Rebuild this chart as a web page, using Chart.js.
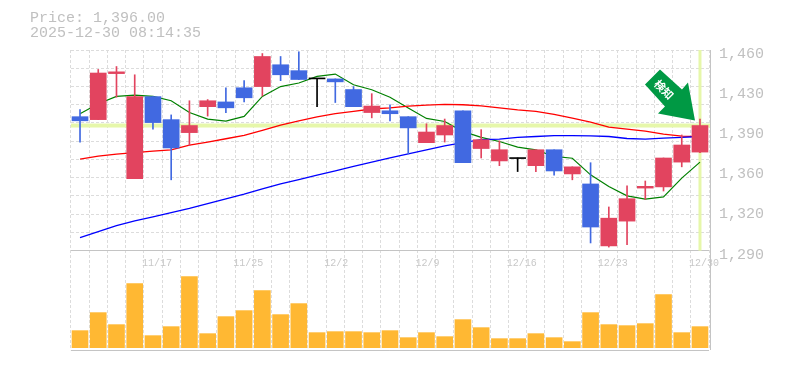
<!DOCTYPE html>
<html>
<head>
<meta charset="utf-8">
<style>
  html, body { margin: 0; padding: 0; background: #fff; }
  #wrap { width: 785px; height: 370px; }
</style>
<script src="https://cdn.jsdelivr.net/npm/chart.js@4/dist/chart.umd.min.js"></script>
</head>
<body>
<div id="wrap"><canvas id="chartCanvas" width="785" height="370"></canvas></div>
<script>
const dates = ['11/11','11/12','11/13','11/14','11/17','11/18','11/19','11/20','11/21','11/25','11/26','11/27','11/28','12/1','12/2','12/3','12/4','12/5','12/8','12/9','12/10','12/11','12/12','12/15','12/16','12/17','12/18','12/19','12/22','12/23','12/24','12/25','12/26','12/29','12/30'];
const shownDates = ['11/17','11/25','12/2','12/9','12/16','12/23','12/30'];

const opens  = [1403.5,1401,1440,1351,1420.5,1401,1390,1412,1416,1428,1429,1447.5,1442.5,1435.5,1435.5,1426.5,1407,1408.5,1403.5,1381.5,1388,1408.5,1376.5,1366,1368,1362,1375.5,1355,1346.5,1294,1315,1343,1344,1365,1373.5];
const closes = [1400,1440.5,1441.5,1420.5,1398.5,1377,1396,1417,1411,1419.5,1454.5,1439,1435,1435.5,1433,1412,1412.5,1406,1394,1390.5,1396,1364.5,1384,1375.5,1368,1375.5,1357.5,1361,1310,1317.5,1334,1344.5,1368.5,1379.5,1396];
const highs  = [1409.5,1443.5,1446,1439,1420.5,1405,1417,1418,1428,1434,1457,1454.5,1458.5,1435.5,1435.5,1429,1423,1413.5,1403.5,1397.5,1401.5,1408.5,1392.5,1383,1368.5,1375.5,1375.5,1361,1364.5,1327,1345,1349,1368.5,1388,1401.5];
const lows   = [1382,1401,1420,1351,1393,1350,1379,1404,1407,1416,1421,1434,1435,1412,1415.5,1412,1402.5,1400,1372,1381.5,1382,1364.5,1368.5,1362,1357,1357,1354,1350,1296.5,1293,1295,1333.5,1340.5,1361,1373];

const ma5  = [1406,1414.5,1420.7,1421.8,1420.7,1417,1407,1401.4,1399.7,1403.7,1420.7,1429,1432,1437.6,1439.6,1430.5,1426.3,1420,1410.8,1402,1399.4,1391,1386,1382.5,1377.7,1375.4,1369.8,1368.3,1354.2,1344.3,1336.4,1333.6,1335.6,1351.4,1365];
const ma25 = [1367.5,1370,1371.7,1373,1374.3,1375.4,1379.4,1382,1384.8,1387.6,1391.8,1396.3,1400,1403.4,1406,1408,1410,1411,1412.4,1413.3,1414,1413.6,1412.7,1411,1409.3,1408,1405.4,1402.3,1398.9,1394.7,1393,1391.2,1388.7,1387,1386.7];
const ma75 = [1301,1306.1,1311.2,1315.2,1318.6,1322.3,1325.9,1329.9,1333.9,1337.8,1342.3,1346.6,1350.2,1353.9,1357.6,1361.3,1365,1368.6,1372,1375.4,1378.8,1381.6,1384,1384.5,1386,1386.7,1387.5,1387.5,1387.3,1386.7,1385,1384.5,1385.3,1385.9,1386.7];

const volumes = [5100,10500,6900,19200,3600,6300,21300,4200,9300,11100,17100,9900,13200,4500,4800,4800,4500,5100,3000,4500,3300,8400,6000,2700,2700,4200,3000,1800,10500,6900,6600,7200,15900,4500,6300];

const priceTicks = [1460,1426,1392,1358,1324,1290];
const priceTickLabels = ['1,460','1,430','1,390','1,360','1,320','1,290'];
const gridTicks = [1460,1444.5,1429.1,1413.6,1398.2,1382.7,1367.3,1351.8,1336.4,1320.9,1305.5,1290];
const lastPrice = 1396;
const priceText = 'Price: 1,396.00';
const timeText = '2025-12-30 08:14:35';
const badgeText = '検知';

const RED = '#e2445f', BLUE = '#4169e1', BLACK = '#000000';
const candleColors = opens.map((o, i) => closes[i] > o ? RED : (closes[i] < o ? BLUE : BLACK));

// price panel is the upper part of the plot, volume panel the lower part
const priceMin = 1205.8, priceMax = 1460;
const volMin = -700, volPanelTop = 29100, volMax = 89200;

// crosshair at the last price, right frame line and the badge arrow over the last candle
const overlayPlugin = {
  id: 'overlay',
  beforeDatasetsDraw(chart) {
    const { ctx, chartArea, scales } = chart;
    const py = scales.y.getPixelForValue(lastPrice);
    const lx = scales.x.getPixelForValue(dates.length - 1);
    ctx.save();
    ctx.fillStyle = '#e6f7aa';
    ctx.fillRect(chartArea.left, py - 2, chartArea.right - chartArea.left + 1, 4);
    ctx.fillRect(lx - 1.5, chartArea.top, 3, scales.y.getPixelForValue(1290) - chartArea.top);
    ctx.fillStyle = '#c4c4c4';
    ctx.fillRect(Math.round(chartArea.right) + 1, chartArea.top, 1, chartArea.bottom - chartArea.top);
    ctx.restore();
  },
  afterDatasetsDraw(chart) {
    const { ctx, scales } = chart;
    const tipX = scales.x.getPixelForValue(dates.length - 1) - 5;
    const tipY = scales.y.getPixelForValue(highs[highs.length - 1]) + 1.5;
    ctx.save();
    ctx.translate(tipX, tipY);
    ctx.fillStyle = '#009944';
    ctx.beginPath();
    ctx.moveTo(-35, -51);
    ctx.lineTo(-50, -36);
    ctx.lineTo(-30, -14);
    ctx.lineTo(-37, -7);
    ctx.lineTo(0, 0);
    ctx.lineTo(-7, -38);
    ctx.lineTo(-13, -31);
    ctx.closePath();
    ctx.fill();
    ctx.translate(-31, -31);
    ctx.rotate(Math.PI / 4);
    ctx.fillStyle = '#ffffff';
    ctx.font = 'bold 11px "Noto Sans CJK JP"';
    ctx.textAlign = 'center';
    ctx.textBaseline = 'middle';
    ctx.fillText(badgeText, 0, 0);
    ctx.restore();
  }
};

const ctx = document.getElementById('chartCanvas').getContext('2d');

new Chart(ctx, {
  type: 'bar',
  data: {
    labels: dates,
    datasets: [
      { type: 'line', label: 'MA5', data: ma5, borderColor: '#008000', borderWidth: 1.2, pointRadius: 0, tension: 0, order: 5 },
      { type: 'line', label: 'MA25', data: ma25, borderColor: '#ff0000', borderWidth: 1.3, pointRadius: 0, tension: 0, order: 4 },
      { type: 'line', label: 'MA75', data: ma75, borderColor: '#0000ff', borderWidth: 1.3, pointRadius: 0, tension: 0, order: 3 },
      { label: 'Volume', yAxisID: 'vol', data: volumes, backgroundColor: '#ffb833', barThickness: 16, grouped: false, order: 6 },
      { label: 'Wick', data: lows.map((l, i) => [l, highs[i]]), backgroundColor: candleColors, barThickness: 1, grouped: false, order: 2 },
      { label: 'Body', data: opens.map((o, i) => [o, closes[i]]), backgroundColor: candleColors, barThickness: 16, minBarLength: 1, grouped: false, order: 1 }
    ]
  },
  options: {
    responsive: false,
    animation: false,
    layout: { padding: { left: 30, right: 0, top: 11, bottom: 20 } },
    plugins: {
      legend: { display: false },
      tooltip: { enabled: false },
      title: {
        display: true,
        text: [priceText, timeText],
        align: 'start',
        color: '#c0c0c0',
        font: { family: '"Liberation Mono"', size: 15, weight: 'normal', lineHeight: 1 },
        padding: { top: 0, bottom: 9 }
      }
    },
    scales: {
      x: {
        position: { vol: volPanelTop },
        offset: true,
        border: { display: false, dash: [3, 2] },
        grid: { offset: true, color: '#dcdcdc', lineWidth: 1, drawTicks: false, tickLength: 0 },
        ticks: {
          autoSkip: false,
          maxRotation: 0,
          padding: 7,
          align: 'start',
          labelOffset: -11,
          color: '#c8c8c8',
          font: { family: '"Liberation Mono"', size: 10 },
          callback: function (value) {
            const d = dates[value];
            return shownDates.includes(d) ? d : '';
          }
        }
      },
      yGrid: {
        position: 'left',
        min: priceMin,
        max: priceMax,
        afterBuildTicks: s => { s.ticks = gridTicks.slice(0, -1).map(v => ({ value: v })); },
        afterFit: s => { s.width = 40.9; },
        border: { display: false, dash: [3, 2] },
        grid: { color: '#dcdcdc', lineWidth: 1, drawTicks: false },
        ticks: { display: false }
      },
      y: {
        position: 'right',
        min: priceMin,
        max: priceMax,
        afterBuildTicks: s => { s.ticks = priceTicks.map(v => ({ value: v })); },
        afterFit: s => { s.width = 75.9; },
        border: { display: false },
        grid: { display: false, drawTicks: false },
        ticks: {
          padding: 10,
          labelOffset: 4,
          color: '#c0c0c0',
          font: { family: '"Liberation Mono"', size: 15 },
          callback: function (value) {
            return priceTickLabels[priceTicks.indexOf(value)];
          }
        }
      },
      vol: {
        position: 'right',
        min: volMin,
        max: volMax,
        afterBuildTicks: s => { s.ticks = [{ value: volMin }, { value: volPanelTop }]; },
        afterFit: s => { s.width = 0; },
        border: { display: false },
        grid: { color: '#c4c4c4', lineWidth: 1, drawTicks: false },
        ticks: { display: false }
      }
    }
  },
  plugins: [overlayPlugin]
});
</script>
</body>
</html>
